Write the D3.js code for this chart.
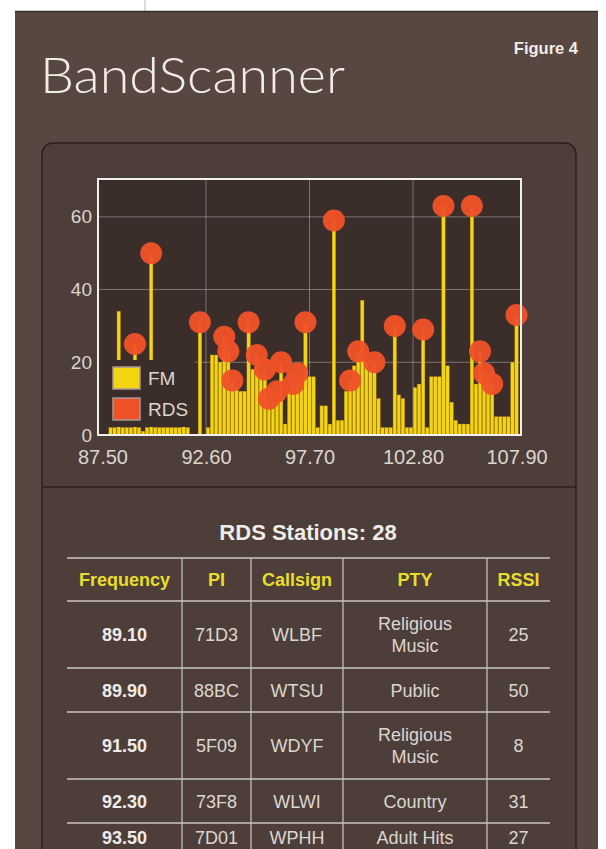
<!DOCTYPE html>
<html><head><meta charset="utf-8">
<script src="https://cdn.jsdelivr.net/npm/d3@7"></script>
<style>html,body{margin:0;padding:0;background:#fff;} svg{display:block;}</style>
</head><body><svg id="c" width="606" height="849"></svg>
<script>
// ---------- data ----------
const freqs = [87.5,87.7,87.9,88.1,88.3,88.5,88.7,88.9,89.1,89.3,89.5,89.7,89.9,90.1,90.3,90.5,90.7,90.9,91.1,91.3,
  91.5,91.7,91.9,92.1,92.3,92.5,92.7,92.9,93.1,93.3,93.5,93.7,93.9,94.1,94.3,94.5,94.7,94.9,95.1,95.3,
  95.5,95.7,95.9,96.1,96.3,96.5,96.7,96.9,97.1,97.3,97.5,97.7,97.9,98.1,98.3,98.5,98.7,98.9,99.1,99.3,
  99.5,99.7,99.9,100.1,100.3,100.5,100.7,100.9,101.1,101.3,101.5,101.7,101.9,102.1,102.3,102.5,102.7,102.9,103.1,103.3,
  103.5,103.7,103.9,104.1,104.3,104.5,104.7,104.9,105.1,105.3,105.5,105.7,105.9,106.1,106.3,106.5,106.7,106.9,107.1,107.3,
  107.5,107.7,107.9];
const fmRssi = [0,0,2,2,34,2,2,2,25,2,1,2,50,2,2,2,2,2,2,2,
  8,2,0,0,31,0,2,22,22,20,27,23,15,13,12,12,31,18,22,17,
  18,10,10,12,20,3,12,14,17,16,31,16,16,2,8,8,3,59,4,4,
  12,15,19,23,37,20,18,20,10,2,2,2,30,11,10,2,2,13,14,29,
  2,16,16,16,63,19,9,4,3,3,3,63,14,23,17,15,14,5,5,5,
  5,20,33];
const rdsFreqs = [89.1,89.9,91.5,92.3,93.5,93.7,93.9,94.7,95.1,95.5,95.7,96.1,96.3,96.9,97.1,97.5,
  98.9,99.7,100.1,100.9,101.9,103.3,104.3,105.7,106.1,106.3,106.7,107.9];
const rdsRssi = [25,50,8,31,27,23,15,31,22,18,10,12,20,14,17,31,59,15,23,20,30,29,63,63,23,17,14,33];
const xTicks = [87.5, 92.6, 97.7, 102.8, 107.9];
const yTicks = [0, 20, 40, 60];
const legendLabels = ["FM", "RDS"];
const tableHeader = ["Frequency", "PI", "Callsign", "PTY", "RSSI"];
const tableFreq = ["89.10", "89.90", "91.50", "92.30", "93.50"];
const tablePI = ["71D3", "88BC", "5F09", "73F8", "7D01"];
const tableCall = ["WLBF", "WTSU", "WDYF", "WLWI", "WPHH"];
const tablePTY = [["Religious", "Music"], ["Public"], ["Religious", "Music"], ["Country"], ["Adult Hits"]];
const tableRSSI = ["25", "50", "8", "31", "27"];

// ---------- style ----------
const C = {
  outer: "#584741", panel: "#4e3e3a", plot: "#3a2d2a", edge: "#2a1f1d",
  bar: "#f3d514", barEdge: "#d9a80e", dot: "#ef5229", frame: "#f2f0ec",
  grid: "rgba(205,200,195,0.45)", text: "#f0ece8", text2: "#dcd6d0", head: "#e8de2a", rule: "#cdc6bf"
};
const SANS = "'Liberation Sans', Arial, Helvetica, sans-serif";

const svg = d3.select("#c");

// page background pieces
svg.append("rect").attr("x", 0).attr("y", 0).attr("width", 606).attr("height", 849).attr("fill", "#fff");
svg.append("line").attr("x1", 145).attr("x2", 145).attr("y1", 0).attr("y2", 11).attr("stroke", "#bbb").attr("stroke-width", 1);
svg.append("rect").attr("x", 15).attr("y", 11).attr("width", 583).attr("height", 840).attr("fill", C.outer);
svg.append("line").attr("x1", 15).attr("x2", 598).attr("y1", 11.5).attr("y2", 11.5).attr("stroke", "#3a2e2b").attr("stroke-width", 1.5);

// title
svg.append("text").attr("x", 40).attr("y", 93).text("BandScanner")
  .attr("font-family", "Lato, 'Open Sans', sans-serif").attr("font-weight", 300).attr("font-size", 49)
  .attr("fill", C.text).attr("textLength", 305).attr("lengthAdjust", "spacingAndGlyphs");
svg.append("text").attr("x", 578).attr("y", 54).attr("text-anchor", "end").text("Figure 4")
  .attr("font-family", SANS).attr("font-weight", "bold").attr("font-size", 16.5).attr("fill", C.text);

// panel
svg.append("rect").attr("x", 42).attr("y", 143).attr("width", 534).attr("height", 760).attr("rx", 11)
  .attr("fill", C.panel).attr("stroke", C.edge).attr("stroke-width", 1.5);
svg.append("line").attr("x1", 42).attr("x2", 576).attr("y1", 487).attr("y2", 487).attr("stroke", C.edge).attr("stroke-width", 1.5);

// ---------- chart ----------
const L = 98, R = 521, T = 179, B = 435;
const x = d3.scaleLinear().domain([87.28, 108.12]).range([L, R]);
const y = d3.scaleLinear().domain([0, 70.4]).range([B, T]);

svg.append("rect").attr("x", L).attr("y", T).attr("width", R - L).attr("height", B - T).attr("fill", C.plot);

// grid
const g = svg.append("g");
g.selectAll("line.h").data(yTicks.filter(d => d > 0)).join("line")
  .attr("x1", L).attr("x2", R).attr("y1", d => y(d)).attr("y2", d => y(d))
  .attr("stroke", C.grid).attr("stroke-width", 1);
g.selectAll("line.v").data(xTicks.slice(1, -1)).join("line")
  .attr("y1", T).attr("y2", B).attr("x1", d => x(d)).attr("x2", d => x(d))
  .attr("stroke", C.grid).attr("stroke-width", 1);

// bars
const bw = 3.3;
svg.append("g").selectAll("rect").data(freqs.map((f, i) => ({ f, v: fmRssi[i] })).filter(d => d.v > 0)).join("rect")
  .attr("x", d => x(d.f) - bw / 2).attr("width", bw)
  .attr("y", d => y(d.v)).attr("height", d => B - y(d.v))
  .attr("fill", C.bar).attr("stroke", C.barEdge).attr("stroke-width", 0.4);

// RDS dots
svg.append("g").selectAll("circle").data(rdsFreqs.map((f, i) => ({ f, v: rdsRssi[i] }))).join("circle")
  .attr("cx", d => x(d.f)).attr("cy", d => y(d.v)).attr("r", 11)
  .attr("fill", C.dot).attr("fill-opacity", 0.96);

// legend
const lg = svg.append("g");
lg.append("rect").attr("x", L + 1).attr("y", 360).attr("width", 96).attr("height", 67).attr("fill", C.plot);
const lgCols = [C.bar, C.dot];
legendLabels.forEach((lab, i) => {
  const yy = 367 + i * 31;
  lg.append("rect").attr("x", 113).attr("y", yy).attr("width", 27).attr("height", 22)
    .attr("fill", lgCols[i]).attr("stroke", "#a59a92").attr("stroke-width", 1.5);
  lg.append("text").attr("x", 148).attr("y", yy + 18).text(lab)
    .attr("font-family", SANS).attr("font-size", 19).attr("fill", C.text2);
});

// frame
svg.append("rect").attr("x", L).attr("y", T).attr("width", R - L).attr("height", B - T)
  .attr("fill", "none").attr("stroke", C.frame).attr("stroke-width", 2);

// axes
const ax = svg.append("g").attr("transform", `translate(0,${B})`)
  .call(d3.axisBottom(x).tickValues(xTicks).tickFormat(d3.format(".2f")).tickSize(0).tickPadding(15));
ax.select(".domain").remove();
ax.selectAll("text").attr("font-family", SANS).attr("font-size", 20).attr("fill", C.text2);
const ay = svg.append("g").attr("transform", `translate(${L},0)`)
  .call(d3.axisLeft(y).tickValues(yTicks).tickSize(0).tickPadding(6));
ay.select(".domain").remove();
ay.selectAll("text").attr("font-family", SANS).attr("font-size", 19).attr("fill", C.text2);

// ---------- table ----------
svg.append("text").attr("x", 308).attr("y", 540).attr("text-anchor", "middle")
  .text("RDS Stations: " + rdsFreqs.length)
  .attr("font-family", SANS).attr("font-weight", "bold").attr("font-size", 22).attr("fill", C.text);

const colX = [67, 182, 251, 343, 487, 550];
const top0 = 558;
const rows = tableFreq.map((f, i) => [f, tablePI[i], tableCall[i], tablePTY[i], tableRSSI[i]]);
const heights = [43].concat(rows.map(r => 21 + 23 * r[3].length));
const rowY = [top0];
heights.forEach(h => rowY.push(rowY[rowY.length - 1] + h));

const tg = svg.append("g");
rowY.forEach(yy => tg.append("line").attr("x1", colX[0]).attr("x2", colX[5]).attr("y1", yy).attr("y2", yy)
  .attr("stroke", C.rule).attr("stroke-width", 1.5));
colX.slice(1, -1).forEach(xx => tg.append("line").attr("x1", xx).attr("x2", xx).attr("y1", top0).attr("y2", 849)
  .attr("stroke", C.rule).attr("stroke-width", 1.2));

const cx = i => (colX[i] + colX[i + 1]) / 2;
tableHeader.forEach((h, i) => tg.append("text").attr("x", cx(i)).attr("y", top0 + heights[0] / 2 + 6.5)
  .attr("text-anchor", "middle").text(h)
  .attr("font-family", SANS).attr("font-weight", "bold").attr("font-size", 18).attr("fill", C.head));

rows.forEach((r, ri) => {
  const mid = (rowY[ri + 1] + rowY[ri + 2]) / 2;
  r.forEach((cell, ci) => {
    const lines = Array.isArray(cell) ? cell : [cell];
    lines.forEach((ln, li) => {
      // keep the last, page-cut row fully on the page
      const yy = Math.min(mid + 6.5 + (li - (lines.length - 1) / 2) * 22, 844);
      tg.append("text").attr("x", cx(ci)).attr("y", yy)
        .attr("text-anchor", "middle").text(ln)
        .attr("font-family", SANS).attr("font-weight", ci === 0 ? "bold" : "normal")
        .attr("font-size", 18).attr("fill", ci === 0 ? C.text : C.text2);
    });
  });
});
</script></body></html>
